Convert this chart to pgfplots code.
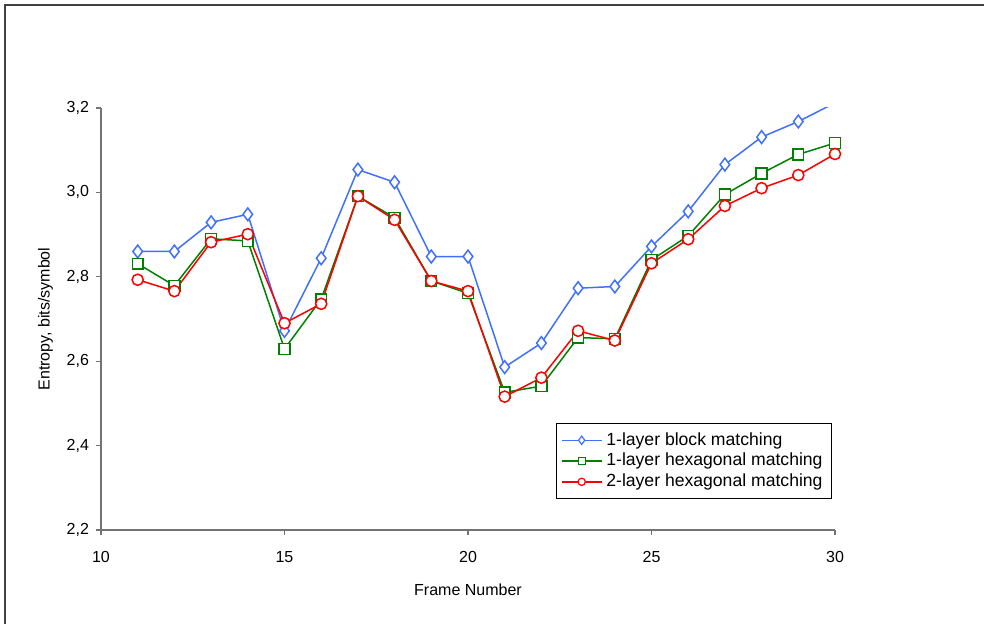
\documentclass[border=0pt]{standalone}
\usepackage{pgfplots}
\pgfplotsset{compat=1.18}
\usepackage{fontspec}
\setmainfont{Liberation Sans}
\definecolor{cblue}{RGB}{64,112,255}
\definecolor{cgreen}{RGB}{0,128,0}
\definecolor{cred}{RGB}{255,0,0}
\begin{document}
\begin{tikzpicture}
\path[use as bounding box] (-50.5pt,-47pt) rectangle (441.5pt,265pt);
\draw[black!75, line width=0.6pt] (-48pt,-47pt) -- (-48pt,262.5pt) -- (441.5pt,262.5pt);
\begin{axis}[
  at={(0pt,0pt)}, anchor=origin,
  scale only axis, width=367pt, height=211pt,
  xmin=10, xmax=30, ymin=2.2, ymax=3.2,
  axis x line*=bottom, axis y line*=left,
  axis line style={draw=black!55, line width=0.6pt, -},
  xtick={10,15,20,25,30}, ytick={2.2,2.4,2.6,2.8,3.0,3.2},
  tick align=outside, major tick length=2.5pt,
  tick style={draw=black!55, line width=0.6pt},
  /pgf/number format/assume math mode=true,
  yticklabel style={/pgf/number format/.cd, use comma, fixed, fixed zerofill, precision=1},
  ticklabel style={font=\fontsize{8}{10}\selectfont},
  xticklabel style={yshift=-4.5pt},
  xlabel={Frame Number}, ylabel={Entropy, bits/symbol},
  label style={font=\fontsize{8}{10}\selectfont},
  xlabel style={yshift=-4pt},
  ylabel style={yshift=0pt},
  legend style={at={(0.996,0.073)}, anchor=south east, draw=black, line width=0.5pt,
    font=\fontsize{8.8}{10.5}\selectfont, row sep=-1.5pt, inner sep=2.5pt},
  legend cell align=left,
  legend image code/.code={
    \draw[#1, mark=none] (0cm,0cm) -- (0.7cm,0cm);
    \draw[#1, only marks, mark options={fill=white, line width=0.6pt, scale=0.65}] plot coordinates {(0.35cm,0cm)};
  },
]
\addplot[color=cblue, line width=0.75pt, mark=diamond*, mark size=3.2pt, mark options={fill=white, line width=0.75pt},
  mark indices={1,2,3,4,5,6,7,8,9,10,11,12,13,14,15,16,17,18,19}] coordinates {
(11,2.860) (12,2.860) (13,2.929) (14,2.948) (15,2.672) (16,2.844) (17,3.054) (18,3.024) (19,2.848) (20,2.848)
(21,2.586) (22,2.643) (23,2.773) (24,2.777) (25,2.872) (26,2.955) (27,3.066) (28,3.131) (29,3.168) (30,3.212)};
\addlegendentry{1-layer block matching}
\addplot[color=cgreen, line width=0.75pt, mark=square*, mark size=2.7pt, mark options={fill=white, line width=0.75pt}] coordinates {
(11,2.831) (12,2.779) (13,2.890) (14,2.885) (15,2.629) (16,2.747) (17,2.991) (18,2.940) (19,2.790) (20,2.761)
(21,2.526) (22,2.541) (23,2.656) (24,2.653) (25,2.840) (26,2.897) (27,2.995) (28,3.045) (29,3.090) (30,3.117)};
\addlegendentry{1-layer hexagonal matching}
\addplot[color=cred, line width=0.75pt, mark=*, mark size=2.8pt, mark options={fill=white, line width=0.75pt}] coordinates {
(11,2.793) (12,2.766) (13,2.882) (14,2.901) (15,2.690) (16,2.736) (17,2.991) (18,2.935) (19,2.790) (20,2.766)
(21,2.516) (22,2.561) (23,2.672) (24,2.649) (25,2.832) (26,2.889) (27,2.968) (28,3.010) (29,3.041) (30,3.091)};
\addlegendentry{2-layer hexagonal matching}
\end{axis}
\end{tikzpicture}
\end{document}
